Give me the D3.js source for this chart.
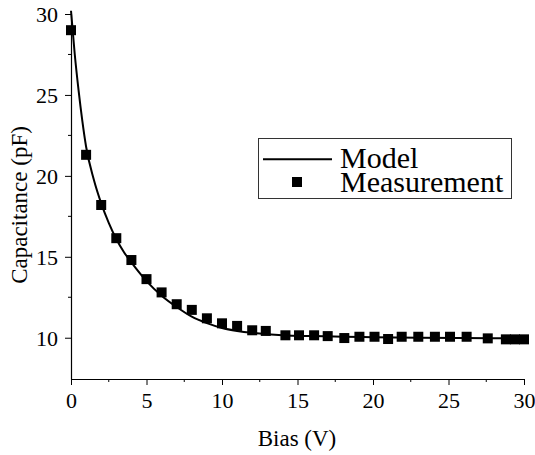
<!DOCTYPE html>
<html>
<head>
<meta charset="utf-8">
<script src="https://cdn.jsdelivr.net/npm/d3@7"></script>
<style>
  html, body { margin: 0; padding: 0; background: #fff; }
  svg { display: block; }
  text { font-family: "Liberation Serif", "Times New Roman", serif; fill: #000; }
</style>
</head>
<body>
<svg id="chart" width="535" height="455"></svg>
<script>
// Measurement data
const measX = [0, 1, 2, 3, 4, 5, 6, 7, 8, 9, 10, 11, 12, 12.9, 14.2, 15.1, 16.1, 17, 18.1, 19.1, 20.1, 21, 21.9, 23, 24.1, 25.1, 26.2, 27.6, 28.8, 29.4, 30];
const measY = [29.0, 21.3, 18.2, 16.15, 14.8, 13.62, 12.8, 12.07, 11.72, 11.2, 10.89, 10.73, 10.46, 10.42, 10.15, 10.15, 10.15, 10.1, 9.98, 10.06, 10.06, 9.92, 10.06, 10.06, 10.06, 10.06, 10.06, 9.96, 9.9, 9.9, 9.9];

// Model curve
const modelX = [0, 0.25, 0.5, 0.75, 1, 1.5, 2, 2.5, 3, 3.5, 4, 5, 6, 7, 8, 9, 10, 11, 12, 13, 14, 16, 18, 20, 23, 26, 30];
const modelY = [30.2, 27.5, 25.3, 23.4, 21.8, 19.8, 18.3, 17.1, 16.1, 15.3, 14.65, 13.5, 12.6, 11.9, 11.3, 10.9, 10.6, 10.42, 10.3, 10.22, 10.16, 10.1, 10.06, 10.03, 10.0, 9.98, 9.96];

// Ticks
const xTicks = [0, 5, 10, 15, 20, 25, 30];
const xMinor = [2.5, 7.5, 12.5, 17.5, 22.5, 27.5];
const yTicks = [10, 15, 20, 25, 30];
const yMinor = [12.5, 17.5, 22.5, 27.5];

const legendLabels = ["Model", "Measurement"];
const xTitle = "Bias (V)";
const yTitle = "Capacitance (pF)";

const svg = d3.select("#chart");
const x = d3.scaleLinear().domain([0, 30]).range([71, 524]);
const y = d3.scaleLinear().domain([7.45, 30]).range([379, 14]);

// Axes
const xAxis = d3.axisBottom(x).tickValues(xTicks).tickSize(6).tickSizeOuter(0);
const gx = svg.append("g").attr("transform", "translate(0,379)").call(xAxis);
gx.selectAll(".tick text").attr("font-size", 22).attr("font-family", null)
  .attr("y", 29).attr("dy", null);
gx.append("g").selectAll("line").data(xMinor).join("line")
  .attr("x1", d => x(d)).attr("x2", d => x(d)).attr("y1", 0).attr("y2", 3).attr("stroke", "#000");

const yAxis = d3.axisLeft(y).tickValues(yTicks).tickSize(6).tickPadding(7).tickSizeOuter(0);
const gy = svg.append("g").attr("transform", "translate(71,0)").call(yAxis);
gy.selectAll(".tick text").attr("font-size", 22).attr("font-family", null).attr("dy", "0.34em");
gy.append("g").selectAll("line").data(yMinor).join("line")
  .attr("y1", d => y(d)).attr("y2", d => y(d)).attr("x1", 0).attr("x2", -3).attr("stroke", "#000");

gx.attr("font-family", null).attr("font-size", null);
gy.attr("font-family", null).attr("font-size", null);
svg.selectAll(".domain").attr("stroke", "#000").attr("stroke-width", 1.2);
svg.selectAll(".tick line").attr("stroke", "#000");

// Titles
svg.append("text").attr("x", 297).attr("y", 445.5).attr("text-anchor", "middle")
  .attr("font-size", 23).text(xTitle);
svg.append("text").attr("transform", "translate(27,205) rotate(-90)").attr("text-anchor", "middle")
  .attr("font-size", 23).text(yTitle);

// Model line
const modelData = modelX.map((d, i) => [d, modelY[i]]);
svg.append("path").datum(modelData)
  .attr("fill", "none").attr("stroke", "#000").attr("stroke-width", 2)
  .attr("d", d3.line().x(d => x(d[0])).y(d => y(d[1])).curve(d3.curveMonotoneX));

// Measurement markers
const ms = 10;
svg.append("g").selectAll("rect").data(measX.map((d, i) => [d, measY[i]])).join("rect")
  .attr("x", d => x(d[0]) - ms / 2).attr("y", d => y(d[1]) - ms / 2)
  .attr("width", ms).attr("height", ms).attr("fill", "#000");

// Legend
const lg = svg.append("g");
lg.append("rect").attr("x", 258.5).attr("y", 138.5).attr("width", 253).attr("height", 60)
  .attr("fill", "#fff").attr("stroke", "#333").attr("stroke-width", 1);
lg.append("line").attr("x1", 263).attr("x2", 332).attr("y1", 159.3).attr("y2", 159.3)
  .attr("stroke", "#000").attr("stroke-width", 2);
lg.append("text").attr("x", 340).attr("y", 168.3).attr("font-size", 30).text(legendLabels[0]);
lg.append("rect").attr("x", 292).attr("y", 177).attr("width", ms).attr("height", ms).attr("fill", "#000");
lg.append("text").attr("x", 340).attr("y", 191.7).attr("font-size", 30).text(legendLabels[1]);
</script>
</body>
</html>
